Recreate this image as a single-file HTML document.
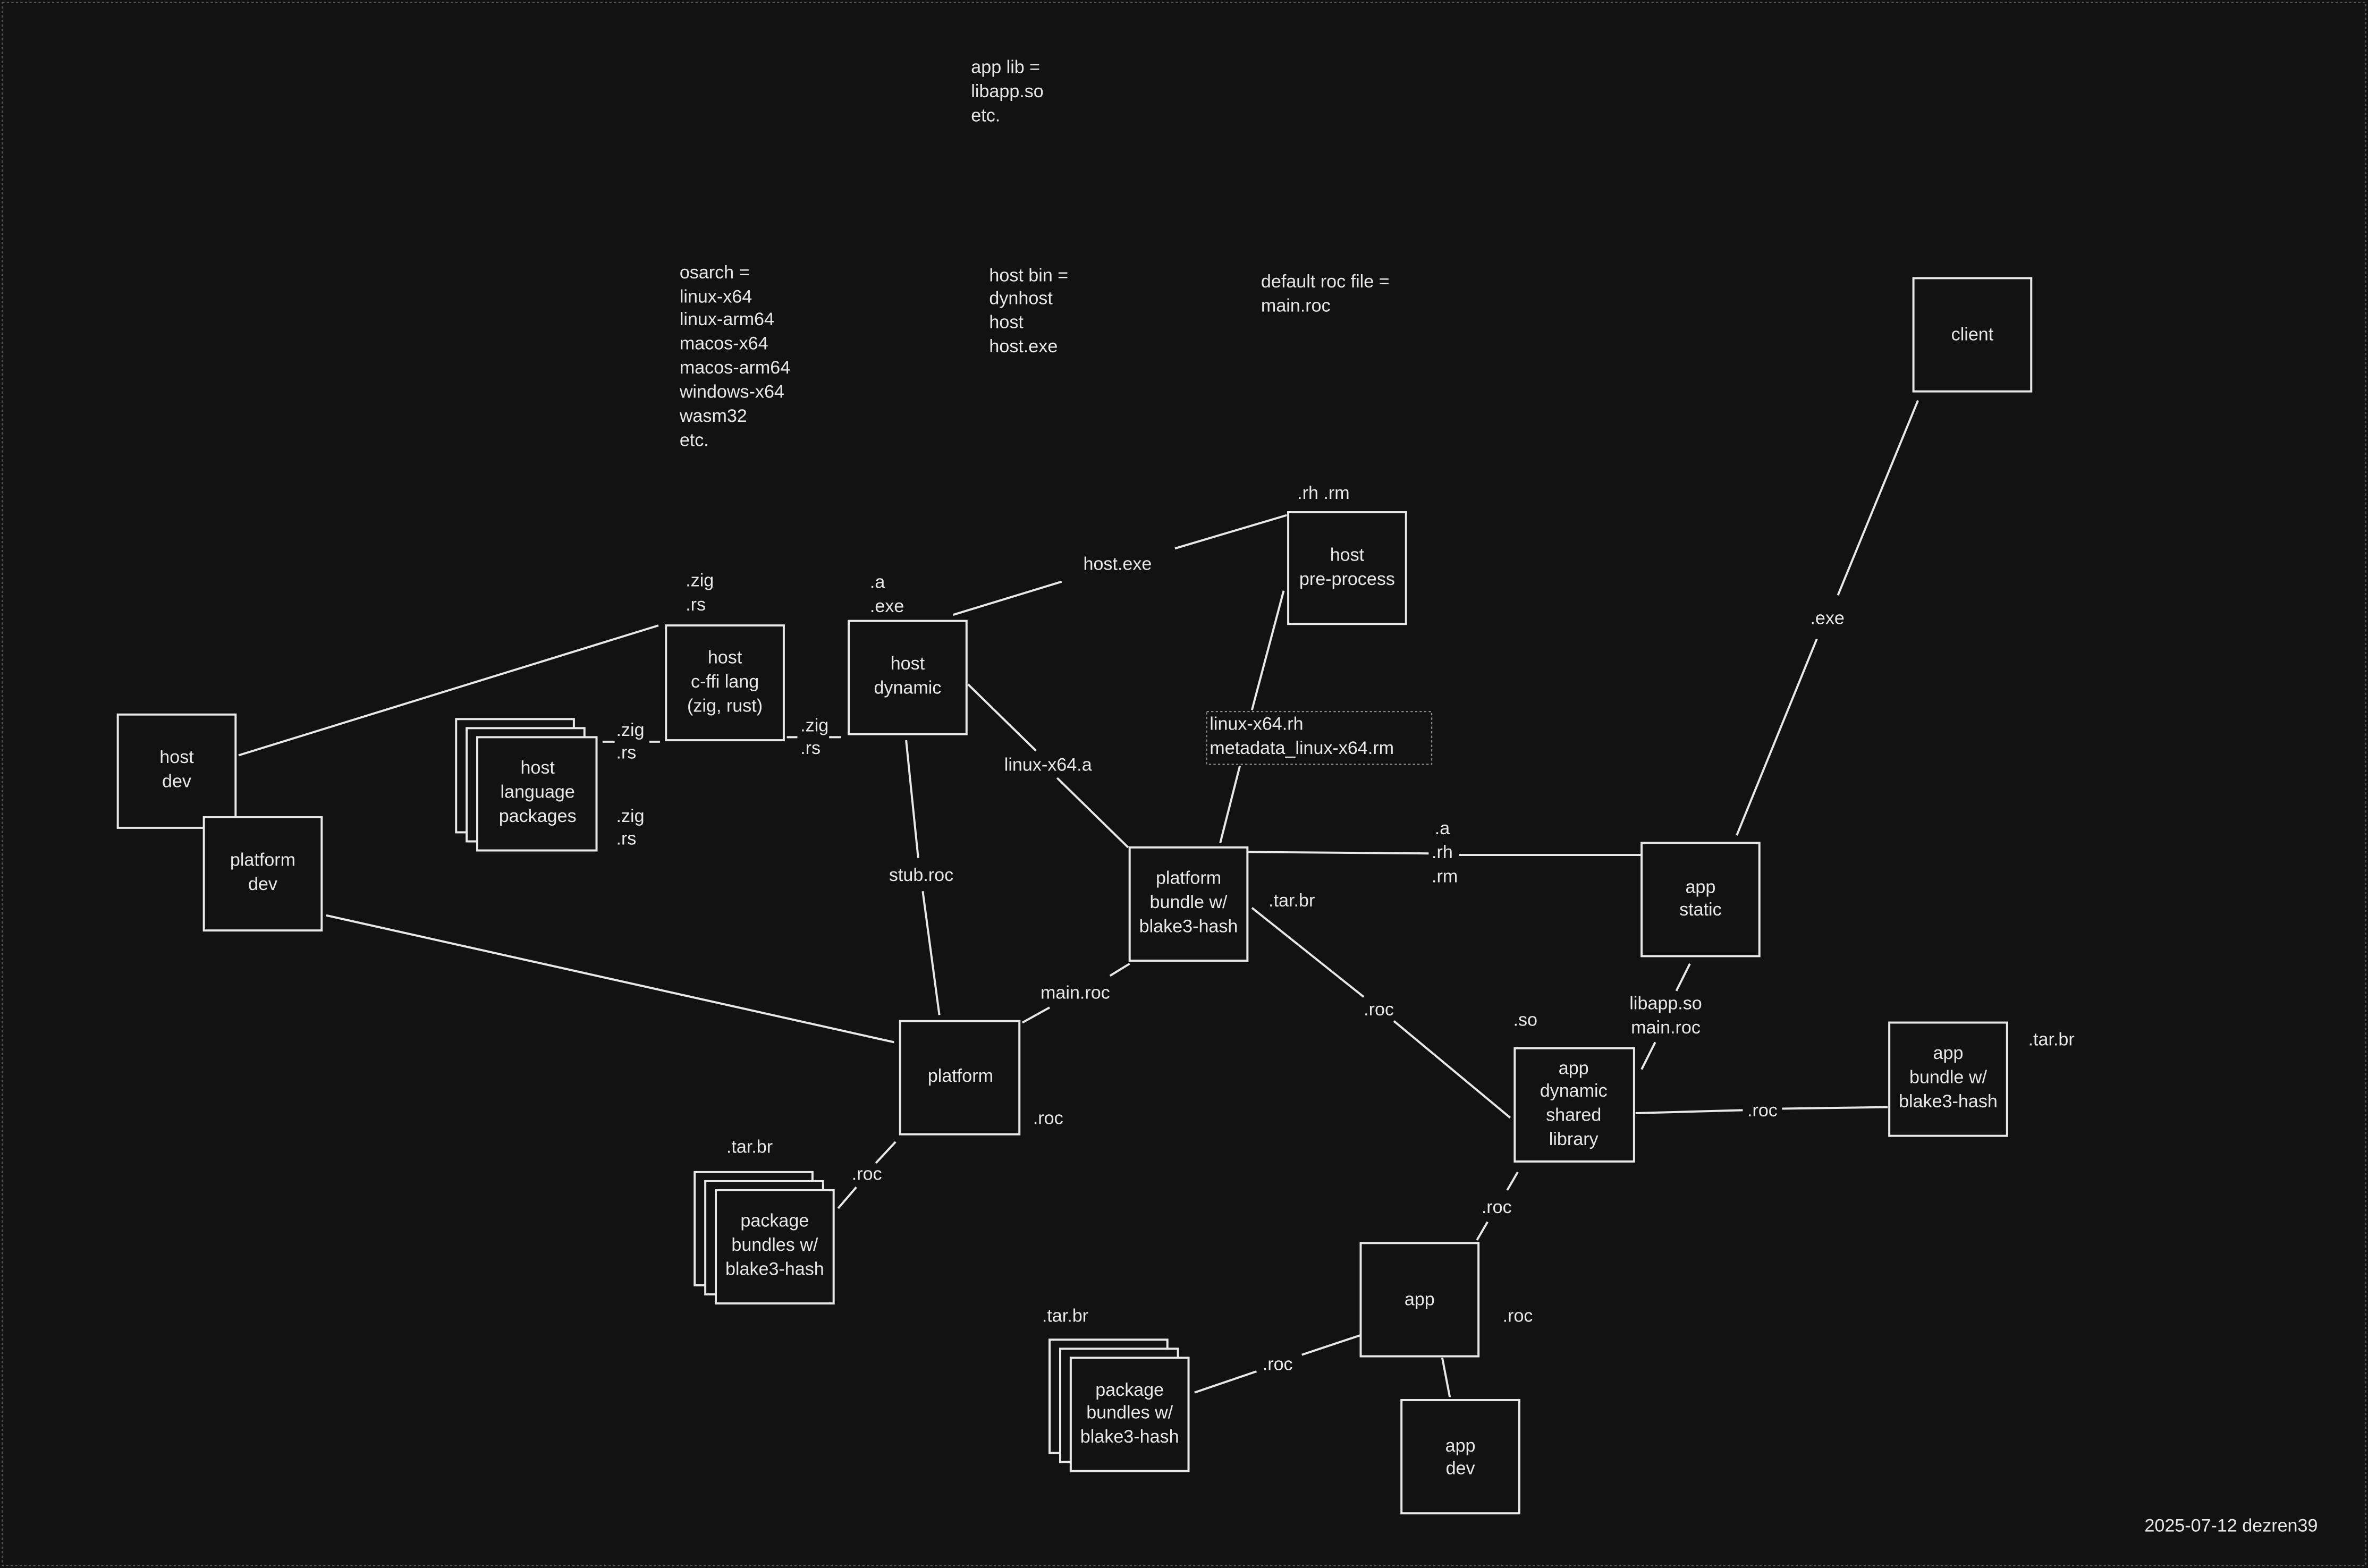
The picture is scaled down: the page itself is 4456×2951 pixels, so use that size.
<!DOCTYPE html>
<html><head><meta charset="utf-8"><style>
html,body{margin:0;padding:0;background:#121212;}
svg{display:block;}
text{font-family:"Liberation Sans",sans-serif;font-size:12px;fill:#e8e8e8;dominant-baseline:middle;}
.c{text-anchor:middle;}
rect{fill:#121212;stroke:#e8e8e8;stroke-width:1.4;}
line{stroke:#e8e8e8;stroke-width:1.4;}
</style></head><body>
<svg width="4456" height="2951" viewBox="0 0 1568 1038" xmlns="http://www.w3.org/2000/svg">
<rect x="0" y="0" width="1568" height="1038" style="fill:#121212;stroke:none"/>
<rect x="1.5" y="1.5" width="1565" height="1035" style="fill:none;stroke:#555;stroke-width:0.8;stroke-dasharray:1.5 1.5"/>

<!-- lines -->
<line x1="158" y1="500" x2="436" y2="414"/>
<line x1="216" y1="606" x2="592" y2="690"/>
<line x1="399" y1="491" x2="407" y2="491"/><line x1="430" y1="491" x2="437" y2="491"/>
<line x1="521" y1="488" x2="528" y2="488"/><line x1="549" y1="488" x2="557" y2="488"/>
<line x1="631" y1="407" x2="703" y2="385"/><line x1="778" y1="363" x2="852" y2="341"/>
<line x1="641" y1="453" x2="686" y2="497"/><line x1="700" y1="515" x2="747" y2="561"/>
<line x1="600" y1="490" x2="608" y2="568"/><line x1="611" y1="590" x2="622" y2="672"/>
<line x1="850" y1="391" x2="829" y2="470"/><line x1="821" y1="507" x2="808" y2="558"/>
<line x1="826" y1="564" x2="946" y2="565"/><line x1="966" y1="566" x2="1087" y2="566"/>
<line x1="829" y1="601" x2="903" y2="660"/><line x1="923" y1="676" x2="1000" y2="740"/>
<line x1="677" y1="677" x2="695" y2="667"/><line x1="735" y1="646" x2="748" y2="638"/>
<line x1="593" y1="756" x2="580" y2="770"/><line x1="567" y1="786" x2="555" y2="800"/>
<line x1="1150" y1="553" x2="1203" y2="423"/><line x1="1217" y1="394" x2="1270" y2="265"/>
<line x1="1119" y1="638" x2="1110" y2="656"/><line x1="1096" y1="690" x2="1087" y2="708"/>
<line x1="1083" y1="737" x2="1154" y2="735"/><line x1="1180" y1="734" x2="1250" y2="733"/>
<line x1="1005" y1="776" x2="998" y2="788"/><line x1="985" y1="809" x2="978" y2="821"/>
<line x1="901" y1="884" x2="862" y2="897"/><line x1="832" y1="908" x2="791" y2="922"/>
<line x1="955" y1="899" x2="960" y2="925"/>

<!-- boxes -->
<rect x="78" y="473" width="78" height="75"/>
<text class="c" x="117" y="502">host</text><text class="c" x="117" y="518">dev</text>
<rect x="135" y="541" width="78" height="75"/>
<text class="c" x="174" y="570">platform</text><text class="c" x="174" y="586">dev</text>
<rect x="441" y="414" width="78" height="76"/>
<text class="c" x="480" y="436">host</text><text class="c" x="480" y="452">c-ffi lang</text><text class="c" x="480" y="468">(zig, rust)</text>
<rect x="302" y="476" width="78" height="75"/><rect x="309" y="482" width="78" height="75"/><rect x="316" y="488" width="79" height="75"/>
<text class="c" x="356" y="509">host</text><text class="c" x="356" y="525">language</text><text class="c" x="356" y="541">packages</text>
<rect x="562" y="411" width="78" height="75"/>
<text class="c" x="601" y="440">host</text><text class="c" x="601" y="456">dynamic</text>
<rect x="853" y="339" width="78" height="74"/>
<text class="c" x="892" y="368">host</text><text class="c" x="892" y="384">pre-process</text>
<rect x="799" y="471" width="149" height="35" style="fill:#121212;stroke:#888;stroke-width:0.8;stroke-dasharray:1.5 1.5"/>
<text x="801" y="480">linux-x64.rh</text><text x="801" y="496">metadata_linux-x64.rm</text>
<rect x="748" y="561" width="78" height="75"/>
<text class="c" x="787" y="582">platform</text><text class="c" x="787" y="598">bundle w/</text><text class="c" x="787" y="614">blake3-hash</text>
<rect x="1087" y="558" width="78" height="75"/>
<text class="c" x="1126" y="588">app</text><text class="c" x="1126" y="603">static</text>
<rect x="1267" y="184" width="78" height="75"/>
<text class="c" x="1306" y="222">client</text>
<rect x="596" y="676" width="79" height="75"/>
<text class="c" x="636" y="713">platform</text>
<rect x="460" y="776" width="78" height="75"/><rect x="467" y="782" width="78" height="75"/><rect x="474" y="788" width="78" height="75"/>
<text class="c" x="513" y="809">package</text><text class="c" x="513" y="825">bundles w/</text><text class="c" x="513" y="841">blake3-hash</text>
<rect x="1003" y="694" width="79" height="75"/>
<text class="c" x="1042" y="708">app</text><text class="c" x="1042" y="723">dynamic</text><text class="c" x="1042" y="739">shared</text><text class="c" x="1042" y="755">library</text>
<rect x="1251" y="677" width="78" height="75"/>
<text class="c" x="1290" y="698">app</text><text class="c" x="1290" y="714">bundle w/</text><text class="c" x="1290" y="730">blake3-hash</text>
<rect x="901" y="823" width="78" height="75"/>
<text class="c" x="940" y="861">app</text>
<rect x="928" y="927" width="78" height="75"/>
<text class="c" x="967" y="958">app</text><text class="c" x="967" y="973">dev</text>
<rect x="695" y="887" width="78" height="75"/><rect x="702" y="893" width="78" height="75"/><rect x="709" y="899" width="78" height="75"/>
<text class="c" x="748" y="921">package</text><text class="c" x="748" y="936">bundles w/</text><text class="c" x="748" y="952">blake3-hash</text>

<!-- labels -->
<text x="643" y="45">app lib =</text><text x="643" y="61">libapp.so</text><text x="643" y="77">etc.</text>
<text x="450" y="181">osarch =</text><text x="450" y="197">linux-x64</text><text x="450" y="212">linux-arm64</text><text x="450" y="228">macos-x64</text><text x="450" y="244">macos-arm64</text><text x="450" y="260">windows-x64</text><text x="450" y="276">wasm32</text><text x="450" y="292">etc.</text>
<text x="655" y="183">host bin =</text><text x="655" y="198">dynhost</text><text x="655" y="214">host</text><text x="655" y="230">host.exe</text>
<text x="835" y="187">default roc file =</text><text x="835" y="203">main.roc</text>
<text x="859" y="327">.rh .rm</text>
<text x="454" y="385">.zig</text><text x="454" y="401">.rs</text>
<text x="576" y="386">.a</text><text x="576" y="402">.exe</text>
<text x="408" y="484">.zig</text><text x="408" y="499">.rs</text>
<text x="530" y="481">.zig</text><text x="530" y="496">.rs</text>
<text x="408" y="541">.zig</text><text x="408" y="556">.rs</text>
<text class="c" x="740" y="374">host.exe</text>
<text class="c" x="694" y="507">linux-x64.a</text>
<text class="c" x="610" y="580">stub.roc</text>
<text x="950" y="549">.a</text><text x="948" y="565">.rh</text><text x="948" y="581">.rm</text>
<text x="840" y="597">.tar.br</text>
<text class="c" x="913" y="669">.roc</text>
<text class="c" x="712" y="658">main.roc</text>
<text class="c" x="574" y="778">.roc</text>
<text x="684" y="741">.roc</text>
<text x="481" y="760">.tar.br</text>
<text class="c" x="1210" y="410">.exe</text>
<text class="c" x="1103" y="665">libapp.so</text><text class="c" x="1103" y="681">main.roc</text>
<text x="1002" y="676">.so</text>
<text x="1343" y="689">.tar.br</text>
<text class="c" x="1167" y="736">.roc</text>
<text class="c" x="991" y="800">.roc</text>
<text x="995" y="872">.roc</text>
<text class="c" x="846" y="904">.roc</text>
<text x="690" y="872">.tar.br</text>
<text x="1420" y="1011">2025-07-12 dezren39</text>
</svg>
</body></html>
